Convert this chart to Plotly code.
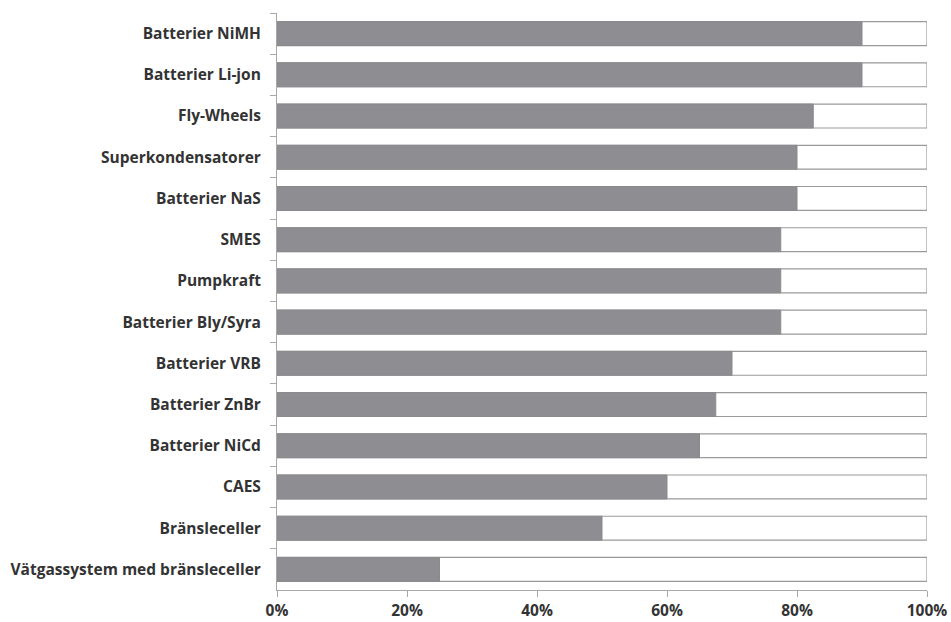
import plotly.graph_objects as go

# Storage technologies, listed top to bottom
technologies = [
    "Batterier NiMH",
    "Batterier Li-jon",
    "Fly-Wheels",
    "Superkondensatorer",
    "Batterier NaS",
    "SMES",
    "Pumpkraft",
    "Batterier Bly/Syra",
    "Batterier VRB",
    "Batterier ZnBr",
    "Batterier NiCd",
    "CAES",
    "Bränsleceller",
    "Vätgassystem med bränsleceller",
]
# Efficiency share of each technology
efficiency = [0.90, 0.90, 0.825, 0.80, 0.80, 0.775, 0.775, 0.775,
              0.70, 0.675, 0.65, 0.60, 0.50, 0.25]
# Full scale behind each bar
full_scale = [1.0] * len(technologies)

x_ticks = [0, 0.2, 0.4, 0.6, 0.8, 1.0]
x_tick_labels = ["0%", "20%", "40%", "60%", "80%", "100%"]

label_font = dict(size=15.5, family="Open Sans", weight="bold", color="#333333")

fig = go.Figure()
fig.add_trace(go.Bar(
    y=technologies, x=full_scale, orientation="h",
    marker=dict(color="white", line=dict(color="#9a9a9a", width=1.2)),
    width=0.58, hoverinfo="skip", showlegend=False,
))
fig.add_trace(go.Bar(
    y=technologies, x=efficiency, orientation="h",
    marker=dict(color="#8e8e92", line=dict(color="#8a8a8e", width=1)),
    width=0.58, showlegend=False,
))

fig.update_layout(
    width=951, height=622,
    barmode="overlay",
    paper_bgcolor="white", plot_bgcolor="white",
    margin=dict(l=277, r=24, t=13, b=32),
    font=dict(family="Open Sans", color="#333333"),
)
fig.update_xaxes(
    automargin=False,
    range=[0, 1], tickvals=x_ticks, ticktext=x_tick_labels,
    showgrid=False, zeroline=False,
    showline=True, linecolor="#a8a8a8", linewidth=1,
    ticks="outside", ticklen=6, tickcolor="#a8a8a8",
    ticklabelstandoff=0,
    tickfont=label_font,
)
fig.update_yaxes(
    automargin=False,
    autorange="reversed", showgrid=False, zeroline=False,
    showline=True, linecolor="#a8a8a8", linewidth=1,
    ticks="outside", ticklen=6, tickcolor="#a8a8a8", tickson="boundaries",
    ticklabelstandoff=12,
    tickfont=label_font,
)

fig.write_html("out.html")
